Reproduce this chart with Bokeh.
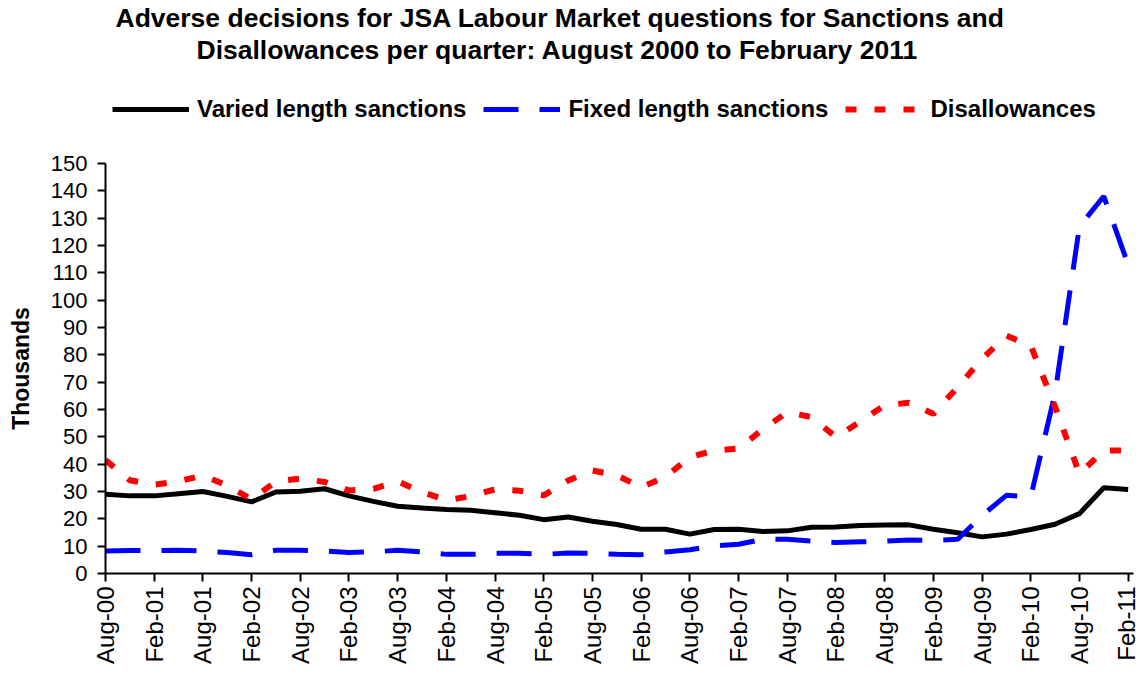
import math
from bokeh.plotting import figure
from bokeh.layouts import column
from bokeh.models import (Range1d, FixedTicker, Legend, LegendItem, Label,
                          ColumnDataSource)
from bokeh.embed import file_html
from bokeh.resources import INLINE

# ---------------- data (thousands) ----------------
quarters = ["Aug-00", "Nov-00", "Feb-01", "May-01", "Aug-01", "Nov-01", "Feb-02",
            "May-02", "Aug-02", "Nov-02", "Feb-03", "May-03", "Aug-03", "Nov-03",
            "Feb-04", "May-04", "Aug-04", "Nov-04", "Feb-05", "May-05", "Aug-05",
            "Nov-05", "Feb-06", "May-06", "Aug-06", "Nov-06", "Feb-07", "May-07",
            "Aug-07", "Nov-07", "Feb-08", "May-08", "Aug-08", "Nov-08", "Feb-09",
            "May-09", "Aug-09", "Nov-09", "Feb-10", "May-10", "Aug-10", "Nov-10",
            "Feb-11"]

varied_length = [29.0, 28.4, 28.4, 29.2, 30.0, 28.2, 26.2, 29.8, 30.1, 31.0,
                 28.4, 26.4, 24.6, 24.0, 23.4, 23.1, 22.2, 21.3, 19.7, 20.7,
                 19.1, 17.9, 16.2, 16.2, 14.4, 16.1, 16.2, 15.4, 15.6, 16.9,
                 17.0, 17.6, 17.7, 17.8, 16.2, 14.9, 13.4, 14.4, 16.1, 18.0,
                 21.9, 31.4, 30.7]

fixed_length = [8.2, 8.4, 8.4, 8.5, 8.2, 7.7, 6.9, 8.5, 8.5, 8.2,
                7.7, 7.9, 8.5, 7.9, 7.0, 7.0, 7.4, 7.4, 7.0, 7.5,
                7.4, 7.0, 6.9, 7.9, 8.7, 10.1, 10.7, 12.5, 12.5, 11.9,
                11.3, 11.6, 11.8, 12.3, 12.1, 12.5, 21.2, 28.6, 28.0, 66.0,
                127.0, 138.0, 113.0]

disallowances = [41.5, 34.1, 32.5, 33.7, 35.9, 32.2, 27.1, 33.7, 34.7, 33.5,
                 30.4, 31.0, 33.7, 29.8, 26.8, 28.3, 30.8, 30.3, 28.6, 34.0,
                 37.7, 35.9, 31.6, 35.3, 42.6, 45.0, 45.7, 52.8, 59.0, 57.2,
                 49.9, 55.6, 61.5, 62.5, 58.4, 68.2, 78.5, 87.0, 83.4, 61.0,
                 36.5, 45.0, 45.0]

tick_labels = ["Aug-00", "Feb-01", "Aug-01", "Feb-02", "Aug-02", "Feb-03",
               "Aug-03", "Feb-04", "Aug-04", "Feb-05", "Aug-05", "Feb-06",
               "Aug-06", "Feb-07", "Aug-07", "Feb-08", "Aug-08", "Feb-09",
               "Aug-09", "Feb-10", "Aug-10", "Feb-11"]
y_ticks = [0, 10, 20, 30, 40, 50, 60, 70, 80, 90, 100, 110, 120, 130, 140, 150]

series_names = ["Varied length sanctions", "Fixed length sanctions", "Disallowances"]
title_lines = ["Adverse decisions for JSA Labour Market questions for Sanctions and",
               "Disallowances per quarter: August 2000 to February 2011"]

FONT = "Liberation Sans"
STYLES = [dict(line_color="black", line_width=5),
          dict(line_color="#0000FF", line_width=5, line_dash="35 21"),
          dict(line_color="#FF0000", line_width=6, line_dash="11 18")]
W = 1139

# ---------------- header figure: title + legend ----------------
head = figure(width=W, height=151, output_backend="svg", toolbar_location=None,
              x_range=Range1d(0, 1), y_range=Range1d(0, 1), title=None,
              x_axis_location=None, y_axis_location=None,
              min_border_left=0, min_border_right=0, min_border_top=0,
              min_border_bottom=0)
head.outline_line_color = None
head.xgrid.visible = False
head.ygrid.visible = False

# legend keys: line renderers that carry only a missing value (draw nothing)
key_src = ColumnDataSource(dict(x=[float("nan")], y=[float("nan")]))
key_renderers = [head.line("x", "y", source=key_src, **st) for st in STYLES]

legend = Legend(items=[LegendItem(label=n, renderers=[r])
                       for n, r in zip(series_names, key_renderers)],
                orientation="horizontal", location=(7, 28), margin=0,
                padding=0, spacing=17, glyph_width=77, glyph_height=26,
                label_standoff=8, label_text_font=FONT,
                label_text_font_size="24px", label_text_font_style="bold",
                label_text_color="black", border_line_color=None,
                background_fill_alpha=0)
head.add_layout(legend, "center")

head.add_layout(Label(x=10, y=134, x_units="screen", y_units="screen",
                      text=title_lines[0], text_font=FONT,
                      text_font_size="26.5px", text_font_style="bold",
                      text_color="black", text_baseline="middle",
                      text_align="left"))
head.add_layout(Label(x=91, y=102, x_units="screen", y_units="screen",
                      text=title_lines[1], text_font=FONT,
                      text_font_size="26.5px", text_font_style="bold",
                      text_color="black", text_baseline="middle",
                      text_align="left"))

# ---------------- main chart ----------------
source = ColumnDataSource(dict(x=list(range(len(quarters))), q=quarters,
                               varied=varied_length, fixed=fixed_length,
                               dis=disallowances))

p = figure(width=W, height=515, output_backend="svg", toolbar_location=None,
           x_range=Range1d(0, 42.22), y_range=Range1d(0, 150), title=None,
           min_border_left=105, min_border_right=6, min_border_top=12,
           min_border_bottom=92)
p.outline_line_color = None
p.xgrid.visible = False
p.ygrid.visible = False

p.line("x", "varied", source=source, **STYLES[0])
p.line("x", "fixed", source=source, **STYLES[1])
p.line("x", "dis", source=source, **STYLES[2])

# x axis
tick_pos = [quarters.index(t) for t in tick_labels]
xa = p.xaxis[0]
xa.ticker = FixedTicker(ticks=tick_pos)
xa.major_label_overrides = {pos: lab for pos, lab in zip(tick_pos, tick_labels)}
xa.major_label_orientation = math.pi / 2
xa.major_label_text_font = FONT
xa.major_label_text_font_size = "24px"
xa.major_label_text_color = "black"
xa.major_label_standoff = 5
xa.axis_line_width = 2
xa.axis_line_color = "black"
xa.major_tick_line_width = 2
xa.major_tick_line_color = "black"
xa.major_tick_out = 8
xa.major_tick_in = 0
xa.minor_tick_line_color = None

# y axis
ya = p.yaxis[0]
ya.ticker = FixedTicker(ticks=y_ticks)
ya.major_label_text_font = FONT
ya.major_label_text_font_size = "22px"
ya.major_label_text_color = "black"
ya.major_label_standoff = 10
ya.axis_line_width = 2
ya.axis_line_color = "black"
ya.major_tick_line_width = 2
ya.major_tick_line_color = "black"
ya.major_tick_out = 8
ya.major_tick_in = 0
ya.minor_tick_line_color = None
ya.axis_label = "Thousands"
ya.axis_label_text_font = FONT
ya.axis_label_text_font_size = "23px"
ya.axis_label_text_font_style = "bold"
ya.axis_label_text_color = "black"
ya.axis_label_standoff = 14

layout = column(head, p, spacing=0)
open("out.html", "w").write(file_html(layout, INLINE))
